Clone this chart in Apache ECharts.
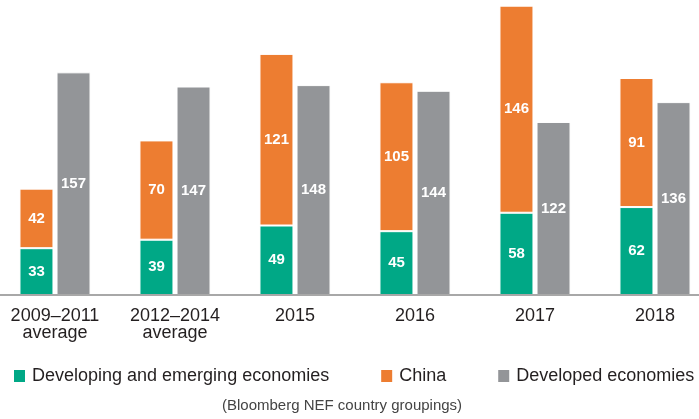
<!DOCTYPE html>
<html>
<head>
<meta charset="utf-8">
<script src="https://cdn.jsdelivr.net/npm/echarts@6/dist/echarts.min.js"></script>
<style>
html,body{margin:0;padding:0;background:#fff;}
#chart{width:699px;height:419px;}
</style>
</head>
<body>
<div id="chart"></div>
<script>
const categories = ['2009–2011\naverage', '2012–2014\naverage', '2015', '2016', '2017', '2018'];
const developing = [33, 39, 49, 45, 58, 62];
const china = [42, 70, 121, 105, 146, 91];
const developed = [157, 147, 148, 144, 122, 136];
const seriesNames = ['Developing and emerging economies', 'China', 'Developed economies'];
const subtitle = '(Bloomberg NEF country groupings)';

const FONT = '"Liberation Sans", Arial, Helvetica, sans-serif';
const COLORS = ['#00a886', '#ed7d31', '#939598'];

const chart = echarts.init(document.getElementById('chart'), null, {renderer: 'canvas'});

const labelStyle = {
  show: true,
  position: 'inside',
  color: '#ffffff',
  fontSize: 15,
  fontWeight: 'bold',
  fontFamily: FONT
};
const itemBorder = {borderColor: '#ffffff', borderWidth: 1};

chart.setOption({
  animation: false,
  color: COLORS,
  textStyle: {fontFamily: FONT},
  title: {
    text: subtitle,
    left: 222,
    top: 398,
    padding: 0,
    textStyle: {fontSize: 15, fontWeight: 'normal', color: '#444444', fontFamily: FONT}
  },
  legend: {
    left: 12,
    top: 367,
    width: 1200,
    padding: 0,
    itemWidth: 13,
    itemHeight: 14,
    itemGap: 50,
    icon: 'rect',
    textStyle: {fontSize: 18, color: '#231f20', fontFamily: FONT, padding: [0, 0, 0, 1]},
    data: seriesNames
  },
  grid: {left: -5, right: -16, top: 0, bottom: 124, containLabel: false, outerBoundsMode: 'none'},
  xAxis: {
    type: 'category',
    data: categories,
    z: 10,
    axisLine: {show: true, lineStyle: {color: '#a8a8a8', width: 2}},
    axisTick: {show: false},
    axisLabel: {
      color: '#231f20',
      fontSize: 18,
      lineHeight: 17,
      margin: 13,
      fontFamily: FONT,
      interval: 0
    }
  },
  yAxis: {
    type: 'value',
    min: 0,
    max: 208,
    show: false,
    splitLine: {show: false}
  },
  series: [
    {
      name: seriesNames[0],
      type: 'bar',
      stack: 'em',
      data: developing,
      barWidth: 34,
      barGap: '9%',
      itemStyle: Object.assign({color: COLORS[0]}, itemBorder),
      label: labelStyle
    },
    {
      name: seriesNames[1],
      type: 'bar',
      stack: 'em',
      data: china,
      barWidth: 34,
      barGap: '9%',
      itemStyle: Object.assign({color: COLORS[1]}, itemBorder),
      label: labelStyle
    },
    {
      name: seriesNames[2],
      type: 'bar',
      data: developed,
      barWidth: 34,
      barGap: '9%',
      itemStyle: Object.assign({color: COLORS[2]}, itemBorder),
      label: labelStyle
    }
  ]
});
</script>
</body>
</html>
